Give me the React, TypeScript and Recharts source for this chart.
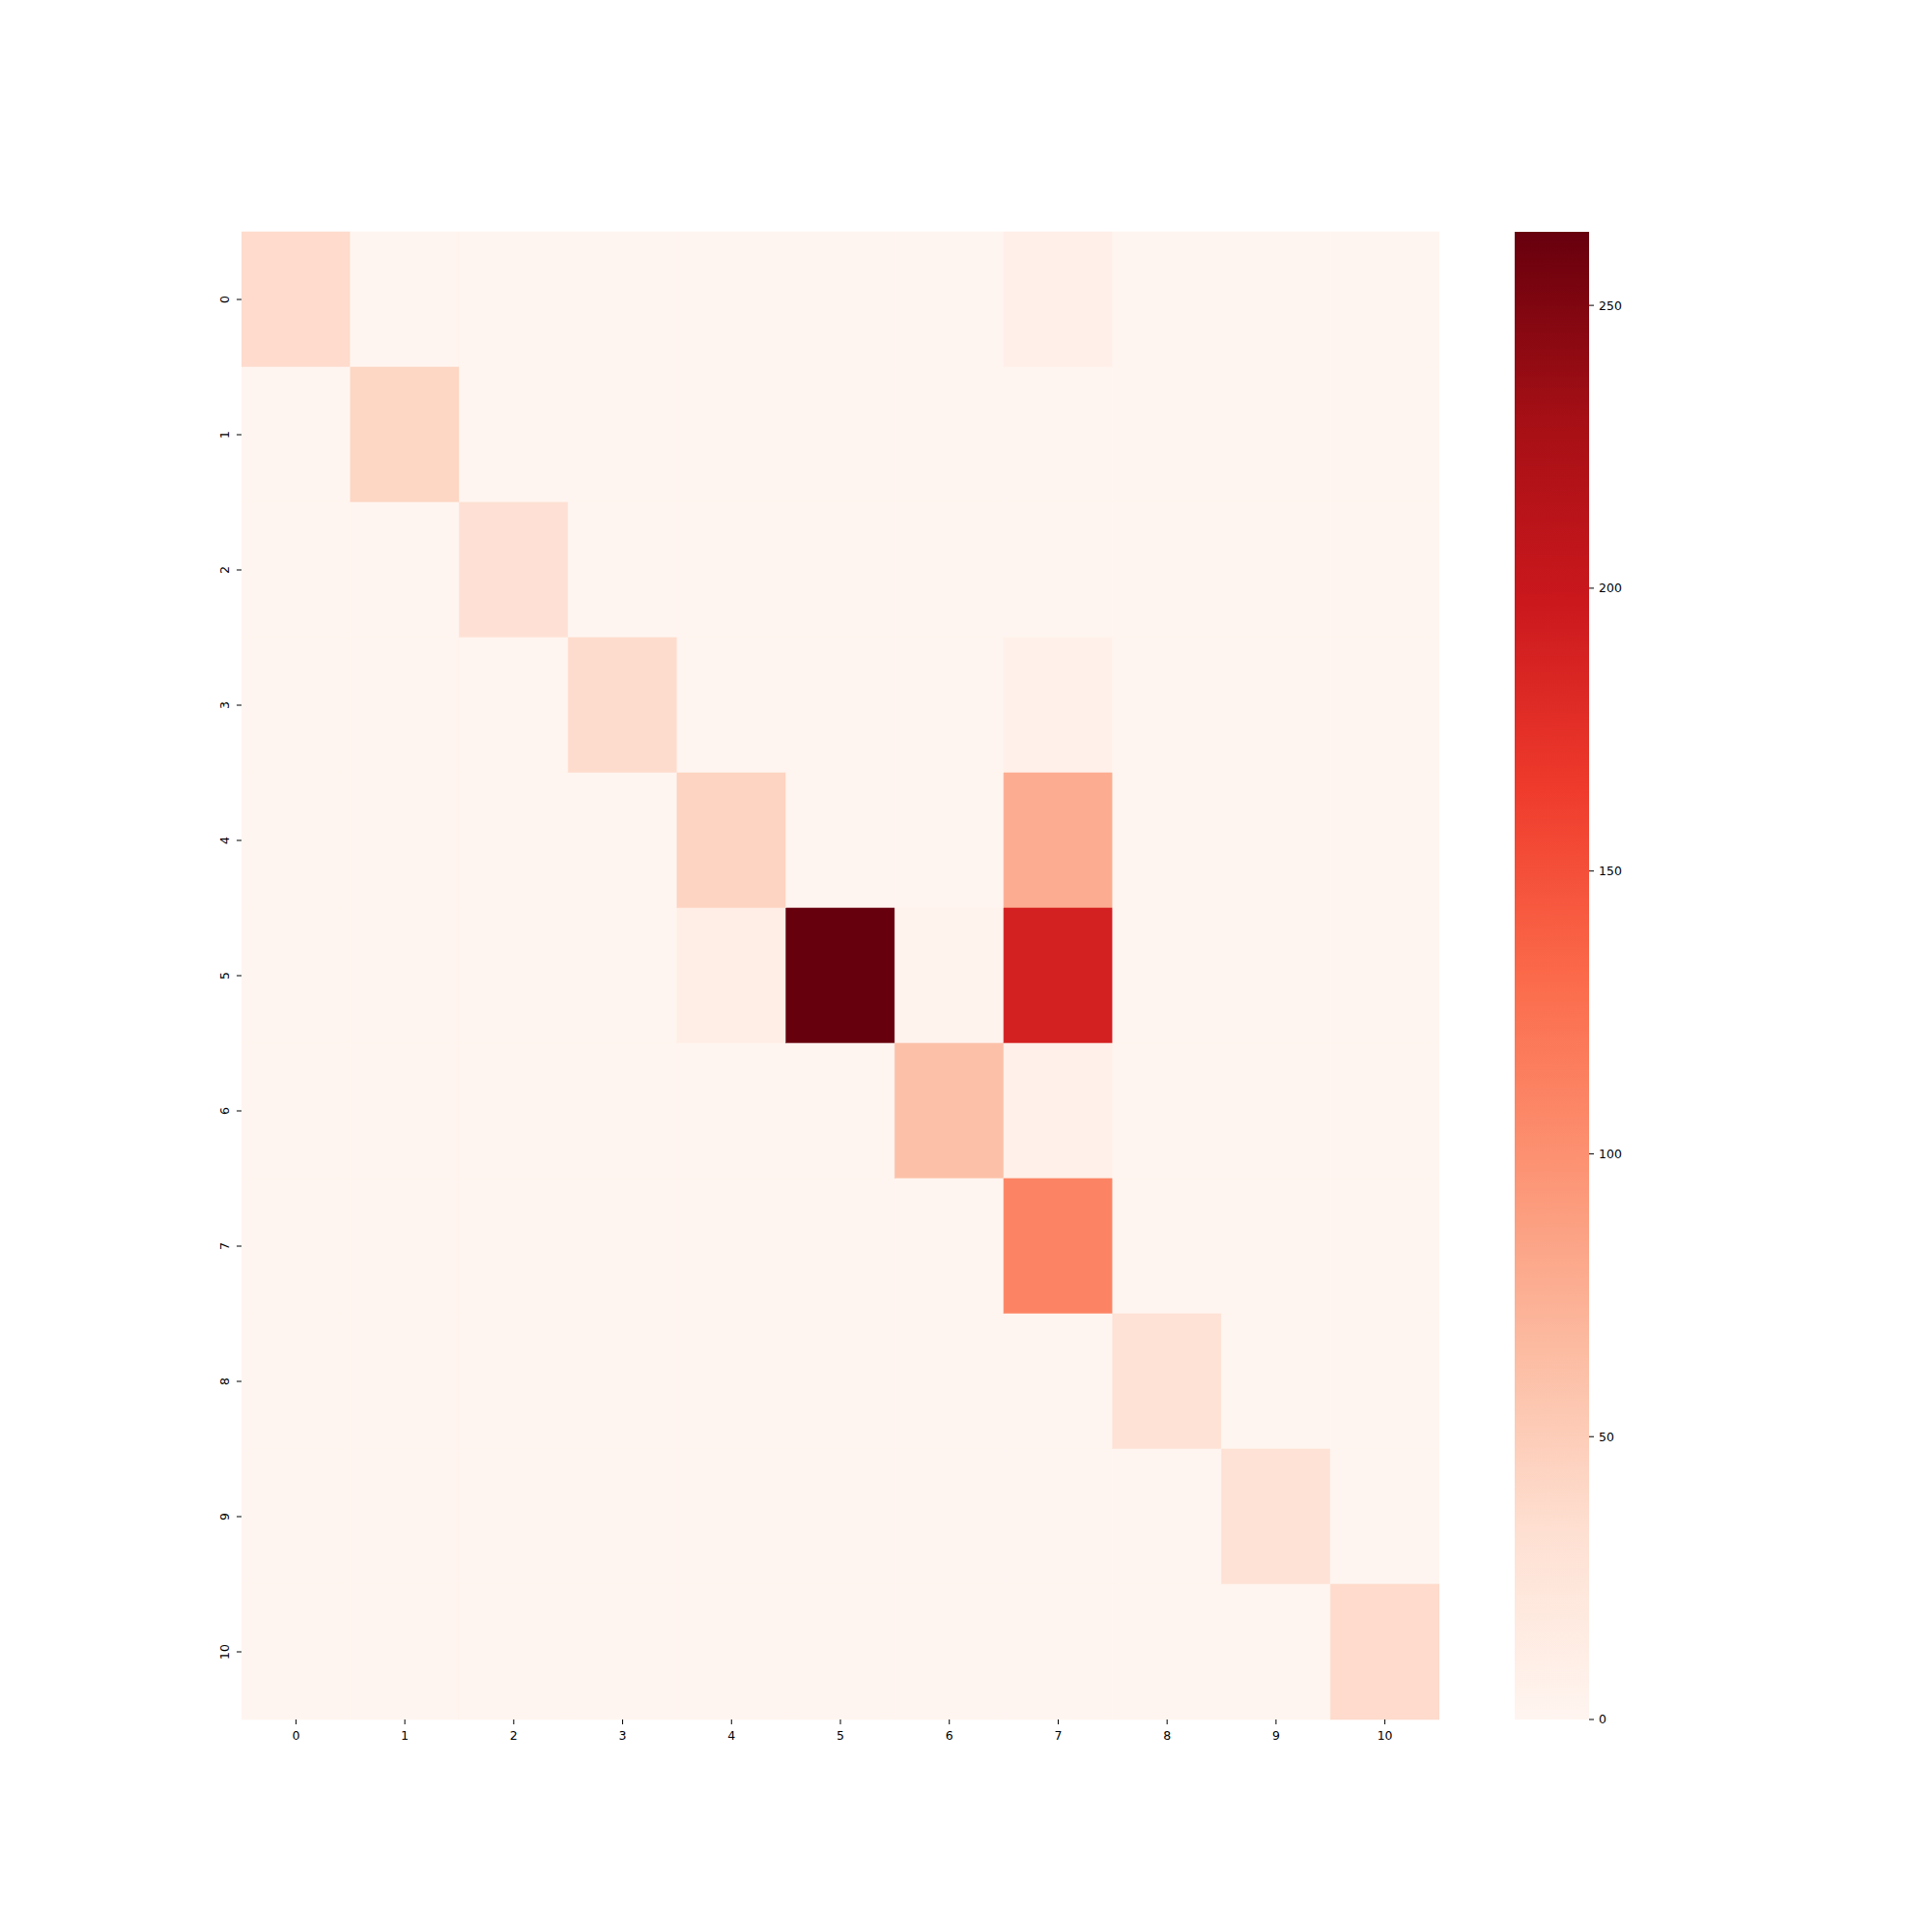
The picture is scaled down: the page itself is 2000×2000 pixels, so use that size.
import { Bar, BarChart, Cell, XAxis, YAxis } from "recharts"

const labels = ["0", "1", "2", "3", "4", "5", "6", "7", "8", "9", "10"]

// confusion counts, row = true class, column = predicted class
const counts = [
  [37, 0, 0, 0, 0, 0, 0, 9, 0, 0, 0],
  [0, 42, 0, 0, 0, 0, 0, 0, 0, 0, 0],
  [0, 0, 31, 0, 0, 0, 0, 0, 0, 0, 0],
  [0, 0, 0, 36, 0, 0, 0, 7, 0, 0, 0],
  [0, 0, 0, 0, 44, 0, 0, 77, 0, 0, 0],
  [0, 0, 0, 0, 11, 263, 3, 190, 0, 0, 0],
  [0, 0, 0, 0, 0, 0, 61, 8, 0, 0, 0],
  [0, 0, 0, 0, 0, 0, 0, 110, 0, 0, 0],
  [0, 0, 0, 0, 0, 0, 0, 0, 30, 0, 0],
  [0, 0, 0, 0, 0, 0, 0, 0, 0, 30, 0],
  [0, 0, 0, 0, 0, 0, 0, 0, 0, 0, 37],
]

const colorbarTicks = [0, 50, 100, 150, 200, 250]

// matplotlib "Reds"
const reds = ["#fff5f0", "#fee0d2", "#fcbba1", "#fc9272", "#fb6a4a", "#ef3b2c", "#cb181d", "#a50f15", "#67000d"]

const vmax = Math.max(...counts.flat())

function hexToRgb(h: string) {
  return [1, 3, 5].map((i) => parseInt(h.slice(i, i + 2), 16))
}

function colorFor(v: number) {
  const t = Math.min(1, Math.max(0, v / vmax)) * (reds.length - 1)
  const i = Math.min(reds.length - 2, Math.floor(t))
  const f = t - i
  const a = hexToRgb(reds[i])
  const b = hexToRgb(reds[i + 1])
  const c = a.map((x, k) => Math.round(x + (b[k] - x) * f))
  return `rgb(${c[0]},${c[1]},${c[2]})`
}

const rows = labels.map((row) => {
  const r: Record<string, string | number> = { row }
  labels.forEach((_, j) => (r[`c${j}`] = 1))
  return r
})

const font = "DejaVu Sans"
const tickStyle = { fill: "#000", fontSize: 12.5, fontFamily: font }

function RowTick(props: any) {
  const { x, y, payload } = props
  return (
    <text x={x} y={y} transform={`rotate(-90, ${x}, ${y})`} textAnchor="middle" {...tickStyle}>
      {payload.value}
    </text>
  )
}

export default function App() {
  return (
    <div style={{ position: "absolute", left: 0, top: 0, width: 2000, height: 2000, background: "#fff" }}>
      <div style={{ position: "absolute", left: 0, top: 0 }}>
        <BarChart
          width={2000}
          height={2000}
          data={rows}
          layout="vertical"
          barCategoryGap={0}
          barGap={0}
          margin={{ top: 240, right: 510, bottom: 180, left: 200 }}
        >
          <XAxis
            type="number"
            domain={[0, labels.length]}
            allowDataOverflow
            ticks={labels.map((_, i) => i + 0.5)}
            tickFormatter={(_v: number, i: number) => labels[i]}
            interval={0}
            axisLine={false}
            tickSize={5}
            tickMargin={7}
            height={40}
            tickLine={{ stroke: "#000" }}
            tick={tickStyle}
          />
          <YAxis
            type="category"
            dataKey="row"
            width={50}
            axisLine={false}
            tickSize={5}
            tickMargin={8}
            interval={0}
            tickLine={{ stroke: "#000" }}
            tick={<RowTick />}
          />
          {labels.map((_, j) => (
            <Bar key={j} dataKey={`c${j}`} stackId="m" isAnimationActive={false}>
              {counts.map((r, i) => (
                <Cell key={i} fill={colorFor(r[j])} stroke={colorFor(r[j])} strokeWidth={0.6} />
              ))}
            </Bar>
          ))}
        </BarChart>
      </div>
      <div style={{ position: "absolute", left: 1568, top: 0 }}>
        <BarChart
          width={200}
          height={2000}
          data={[{ name: "scale", v: vmax }]}
          barCategoryGap={0}
          margin={{ top: 240, right: 73, bottom: 220, left: 0 }}
        >
          <defs>
            <linearGradient id="redsBar" x1="0" y1="1" x2="0" y2="0">
              {reds.map((c, i) => (
                <stop key={i} offset={i / (reds.length - 1)} stopColor={c} />
              ))}
            </linearGradient>
          </defs>
          <XAxis dataKey="name" hide />
          <YAxis
            orientation="right"
            domain={[0, vmax]}
            allowDataOverflow
            ticks={colorbarTicks}
            width={50}
            axisLine={false}
            tickSize={5}
            tickMargin={5}
            tickLine={{ stroke: "#000" }}
            tick={tickStyle}
          />
          <Bar dataKey="v" fill="url(#redsBar)" isAnimationActive={false} />
        </BarChart>
      </div>
    </div>
  )
}
